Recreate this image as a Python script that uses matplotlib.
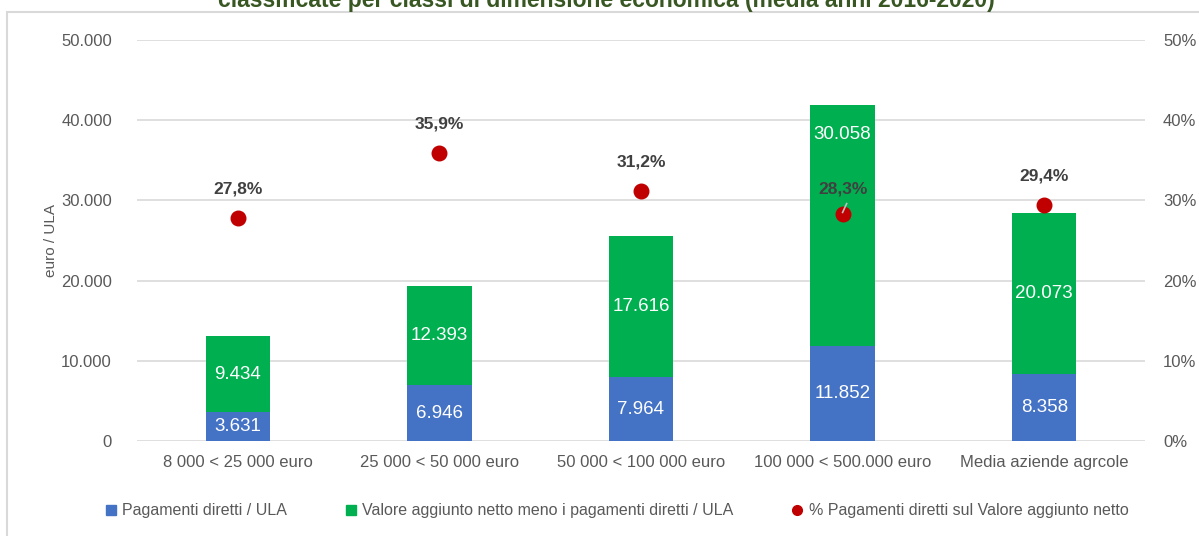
import matplotlib.pyplot as plt
from matplotlib.patches import Rectangle
from matplotlib.lines import Line2D
from matplotlib.ticker import FuncFormatter

plt.rcParams['font.family'] = ['Liberation Sans', 'DejaVu Sans']

classi = ["8 000 < 25 000 euro", "25 000 < 50 000 euro", "50 000 < 100 000 euro",
          "100 000 < 500.000 euro", "Media aziende agrcole"]
pagamenti = [3631, 6946, 7964, 11852, 8358]
valore_meno_pag = [9434, 12393, 17616, 30058, 20073]
perc_pagamenti = [27.8, 35.9, 31.2, 28.3, 29.4]

blu = '#4472C4'
verde = '#00B050'
rosso = '#C00000'
grigio = '#595959'


def migliaia(v):
    return f"{int(round(v)):,}".replace(",", ".")


fig = plt.figure(figsize=(11.99, 5.36), dpi=100)
ax = fig.add_axes([137 / 1199, 1 - 441 / 536, (1145 - 137) / 1199, (441 - 40) / 536])
ax2 = ax.twinx()

x = list(range(len(classi)))
larghezza = 0.32
ax.bar(x, pagamenti, width=larghezza, color=blu, zorder=2)
ax.bar(x, valore_meno_pag, width=larghezza, bottom=pagamenti, color=verde, zorder=2)

for i in x:
    ax.text(i, pagamenti[i] / 2, migliaia(pagamenti[i]), ha='center', va='center',
            color='white', fontsize=13.5, zorder=3)
    totale = pagamenti[i] + valore_meno_pag[i]
    if i == 3:
        # etichetta spostata verso l'alto per non coprire il punto
        ax.annotate(migliaia(valore_meno_pag[i]), (i, totale), xytext=(0, -30),
                    textcoords='offset pixels', ha='center', va='center',
                    color='white', fontsize=13.5, zorder=3)
    else:
        ax.text(i, pagamenti[i] + valore_meno_pag[i] / 2, migliaia(valore_meno_pag[i]),
                ha='center', va='center', color='white', fontsize=13.5, zorder=3)

ax.set_xlim(-0.5, len(classi) - 0.5)
ax.set_ylim(0, 50000)
ax.set_yticks(range(0, 50001, 10000))
ax.yaxis.set_major_formatter(FuncFormatter(lambda v, p: migliaia(v)))
ax.set_xticks(x)
ax.set_xticklabels(classi)
ax.grid(axis='y', color='#D9D9D9', linewidth=1.2, zorder=0)
ax.set_axisbelow(True)
ax.tick_params(length=0, labelsize=12, colors=grigio, pad=10)
ax.tick_params(axis='y', pad=18)
ax.set_ylabel("euro / ULA", fontsize=11, color=grigio, labelpad=2)
for s in ax.spines.values():
    s.set_visible(False)

ax2.scatter(x, perc_pagamenti, s=110, color=rosso, zorder=4)
for i in x:
    if i == 3:
        ax2.plot([i, i + 0.02], [perc_pagamenti[i] + 0.2, perc_pagamenti[i] + 1.3],
                 color='#BFBFBF', linewidth=1.2, zorder=5)
        off = 25
    else:
        off = 29
    ax2.annotate(f"{perc_pagamenti[i]:.1f}%".replace(".", ","), (i, perc_pagamenti[i]),
                 xytext=(0, off), textcoords='offset pixels', ha='center', va='center',
                 fontsize=12.5, fontweight='bold', color='#404040', zorder=5)
ax2.set_ylim(0, 50)
ax2.set_yticks(range(0, 51, 10))
ax2.yaxis.set_major_formatter(FuncFormatter(lambda v, p: f"{int(v)}%"))
ax2.tick_params(length=0, labelsize=12, colors=grigio, pad=13)
for s in ax2.spines.values():
    s.set_visible(False)

voci = [
    Line2D([], [], marker='s', linestyle='none', markersize=7, color=blu),
    Line2D([], [], marker='s', linestyle='none', markersize=7, color=verde),
    Line2D([], [], marker='o', linestyle='none', markersize=7, color=rosso),
]
etichette = ["Pagamenti diretti / ULA",
             "Valore aggiunto netto meno i pagamenti diretti / ULA",
             "% Pagamenti diretti sul Valore aggiunto netto"]
fig.legend(voci, etichette, loc='center', bbox_to_anchor=(615 / 1199, 1 - 511 / 536),
           ncol=3, frameon=False, fontsize=11.5, handletextpad=0.1, columnspacing=3.4,
           handlelength=1.2, labelcolor=grigio)

fig.text(606 / 1199, 1 - 1 / 536,
         "classificate per classi di dimensione economica (media anni 2016-2020)",
         ha='center', va='center', fontsize=16.5, fontweight='bold', color='#385723')

fig.add_artist(Rectangle((7 / 1199, -0.1), 1.1, 1.1 - 12 / 536, transform=fig.transFigure,
                         fill=False, edgecolor='#D9D9D9', linewidth=1.5))

fig.savefig("out.png", dpi=100)
